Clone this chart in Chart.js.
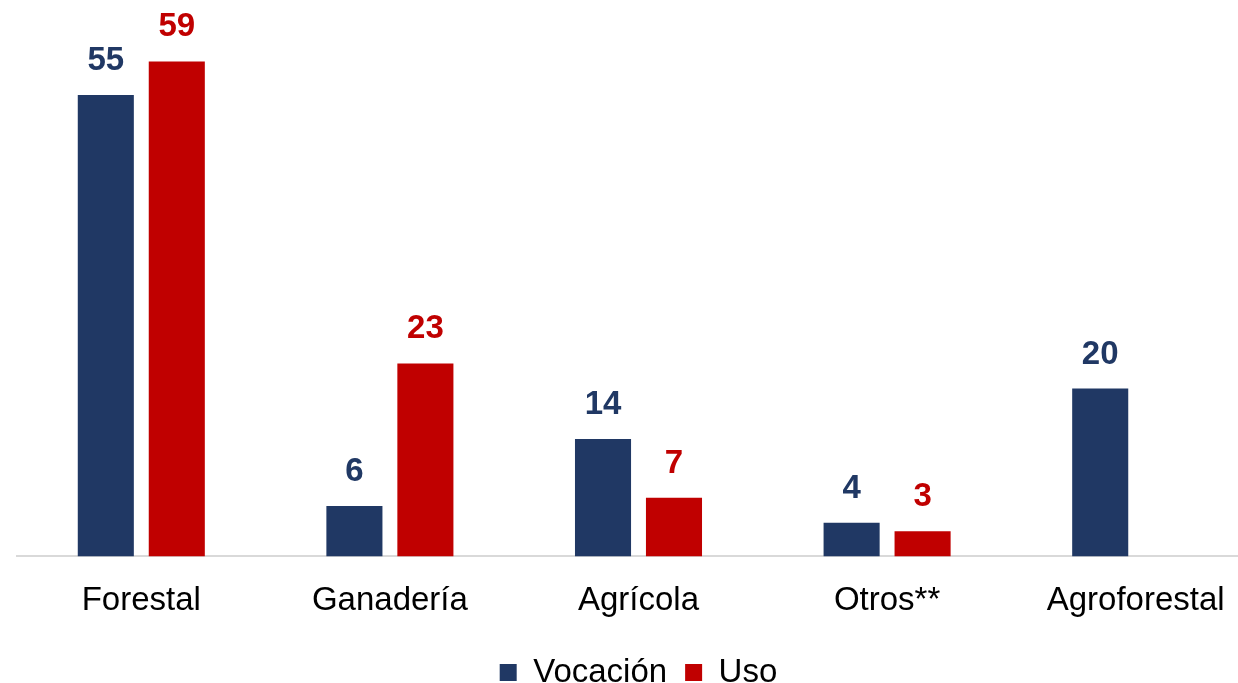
<!DOCTYPE html>
<html>
<head>
<meta charset="utf-8">
<script src="https://cdn.jsdelivr.net/npm/chart.js@4/dist/chart.umd.min.js"></script>
<style>
  html, body { margin: 0; padding: 0; background: #fff; overflow: hidden; }
  #wrap { width: 1280px; height: 699px; }
</style>
</head>
<body>
<div id="wrap"><canvas id="chart"></canvas></div>
<script>
const categories = ['Forestal', 'Ganadería', 'Agrícola', 'Otros**', 'Agroforestal'];
const vocacion = [55, 6, 14, 4, 20];
const uso = [59, 23, 7, 3, null];

const navy = '#203864';
const red = '#C00000';
const fontFamily = '"Liberation Sans", Arial, sans-serif';

// draws the value above each bar
const valueLabels = {
  id: 'valueLabels',
  afterDatasetsDraw(chart) {
    const ctx = chart.ctx;
    ctx.save();
    ctx.font = 'bold 33px ' + fontFamily;
    ctx.textAlign = 'center';
    ctx.textBaseline = 'alphabetic';
    chart.data.datasets.forEach((ds, i) => {
      const meta = chart.getDatasetMeta(i);
      meta.data.forEach((bar, j) => {
        const v = ds.data[j];
        if (v === null || v === undefined) return;
        ctx.fillStyle = ds.backgroundColor;
        ctx.fillText(String(v), bar.x, bar.y - 25);
      });
    });
    ctx.restore();
  }
};

new Chart(document.getElementById('chart'), {
  type: 'bar',
  data: {
    labels: categories,
    datasets: [
      { label: 'Vocación', data: vocacion, backgroundColor: navy, barPercentage: 0.79, categoryPercentage: 0.571 },
      { label: 'Uso', data: uso, backgroundColor: red, barPercentage: 0.79, categoryPercentage: 0.571 }
    ]
  },
  options: {
    responsive: true,
    maintainAspectRatio: false,
    animation: false,
    layout: { padding: { left: 17, right: 20, top: 53, bottom: 0 } },
    plugins: {
      tooltip: { enabled: false },
      legend: {
        position: 'bottom',
        labels: {
          color: '#000',
          font: { size: 33, family: fontFamily },
          boxWidth: 17,
          boxHeight: 17,
          padding: 18
        }
      }
    },
    scales: {
      x: {
        grid: { display: false },
        border: { display: true, color: '#d9d9d9', width: 2 },
        ticks: {
          color: '#000',
          padding: 17,
          font: { size: 33, family: fontFamily }
        }
      },
      y: {
        display: false,
        min: 0,
        max: 60
      }
    }
  },
  plugins: [valueLabels]
});
</script>
</body>
</html>
